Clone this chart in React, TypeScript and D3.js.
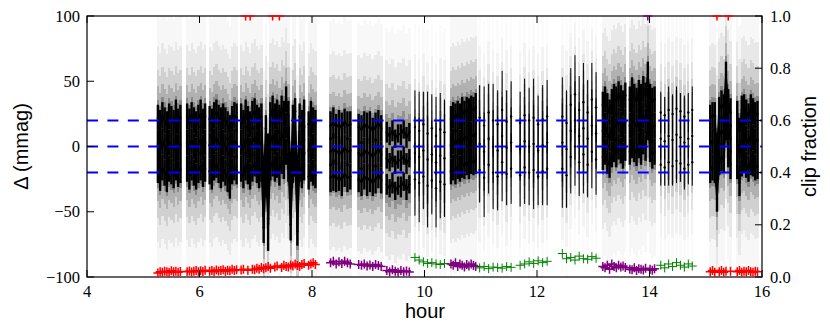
import React from 'react';
import * as d3 from 'd3';

const W = 830;
const H = 332;
const PLOT = { left: 87, right: 762, top: 16, bottom: 277 };

const HOUR_TICKS = [4, 6, 8, 10, 12, 14, 16];
const DELTA_TICKS = [-100, -50, 0, 50, 100];
const CLIP_TICKS = [0, 0.2, 0.4, 0.6, 0.8, 1.0];
// three light curves are drawn offset by these amounts, one dashed zero line each
const OFFSETS = [20, 0, -20];

const RED = '#ff0000';
const PURPLE = '#800080';
const GREEN = '#008000';

// observing blocks: start hour and cadence (hours)
const SEG_START = [5.26, 8.33, 9.83, 10.47, 10.98, 12.45, 13.17, 14.2, 15.08];
const SEG_STEP = [0.04, 0.05, 0.075, 0.04, 0.08, 0.075, 0.04, 0.07, 0.04];

// Δ (mmag) per exposure, null = no exposure
const deltaA = [2, -3, 4, 0, -4, 3, 1, -2, 5, -1, 2, null, null, 3, -2, 4, 0, -3, 2, 5, -1, 3, null, 1, -2, 4, 6, 2, -1, 3, 0, -4, -8, 1, 4, 2, null, 3, -2, 5, 1, -3, 4, 7, 2, -1, 3, -42, -6, -35, 4, 8, 3, 6, 1, 9, 5, 16, 4, -40, 2, 7, -45, 3, -2, 5, null, -3, 4, 0, -2];
const deltaB = [-4, -2, -5, -3, -6, -1, -4, -3, null, null, -5, -7, -3, -6, -4, -8, -5, -2, -6, null, -9, -12, -8, -14, -10, -11, -7, -13, -9];
const deltaC = [-5, -8, -3, -10, -6, -12, -7, -9];
const deltaD1 = [1, 4, 2, 5, 3, 7, 5, 8, 6, 9, 8, 10];
const deltaC2 = [2, -4, 6, 0, -3, 8, -1, 3, null, -2, 4, 0, 2, -3, 1, 3];
const deltaD = [3, -2, 12, 20, 8, 14, 6, 16, 10];
const deltaE = [12, 16, 10, 6, 14, 18, 15, 20, 17, 13, 19, null, 16, 22, 18, 15, 21, 17, 24, 19, 35, 18, 14, 16];
const deltaG = [6, 4, 8, 5, 9, 7, 3, 6, 8];
const deltaF = [2, 4, 3, -20, 8, 12, 10, 35, 14, 6, null, null, 5, -8, 8, 10, 6, 3, 9, 7, 4, 5];

// 1-sigma errors (mmag)
const errA = [10, 11, 10, 10, 11, 10, 10, 10, 11, 10, 10, 0, 0, 10, 11, 10, 10, 10, 10, 11, 10, 10, 0, 10, 11, 10, 10, 10, 11, 10, 10, 11, 12, 10, 10, 11, 0, 10, 10, 11, 10, 10, 11, 10, 10, 11, 10, 12, 10, 25, 10, 11, 10, 10, 11, 10, 10, 10, 11, 12, 10, 10, 11, 10, 10, 11, 0, 10, 11, 10, 10];
const errB = [11, 12, 10, 11, 12, 10, 11, 10, 0, 0, 10, 11, 10, 12, 11, 10, 11, 10, 10, 0, 8, 7, 8, 7, 7, 8, 7, 8, 7];
const errC = [28, 30, 25, 32, 26, 30, 28, 25];
const errD1 = [10, 10, 11, 10, 10, 11, 10, 10, 11, 10, 10, 11];
const errC2 = [25, 30, 22, 28, 26, 30, 24, 27, 0, 24, 28, 25, 30, 22, 26, 28];
const errD = [30, 25, 28, 30, 26, 30, 25, 28, 27];
const errE = [10, 10, 11, 10, 10, 10, 11, 10, 10, 10, 10, 0, 10, 11, 10, 10, 10, 11, 10, 10, 10, 10, 11, 10];
const errG = [16, 14, 18, 15, 17, 14, 16, 15, 18];
const errF = [10, 10, 11, 10, 10, 11, 10, 10, 10, 11, 0, 0, 10, 10, 11, 10, 10, 10, 11, 10, 10, 10];

// clip fraction per exposure
const clipA = [0.015, 0.02, 0.018, 0.022, 0.02, 0.017, 0.024, 0.02, 0.022, 0.018, 0.021, null, null, 0.02, 0.023, 0.019, 0.022, 0.025, 0.02, 0.024, 0.021, 0.026, null, 0.022, 0.025, 0.02, 0.027, 0.023, 0.025, 0.028, 0.022, 0.026, 0.024, 0.03, 0.025, 0.028, null, 0.027, 0.03, 1.0, 0.026, 1.0, 0.03, 0.028, 0.034, 0.03, 0.036, 0.032, 0.035, 0.04, 0.034, 1.0, 0.038, 0.042, 1.0, 0.036, 0.045, 0.04, 0.038, 0.046, 0.042, 0.05, 0.044, 0.04, 0.048, 0.052, null, 0.045, 0.05, 0.055, 0.048];
const clipB = [0.055, 0.06, 0.05, 0.058, 0.052, 0.06, 0.055, 0.05, null, null, 0.048, 0.045, 0.05, 0.042, 0.046, 0.04, 0.048, 0.044, 0.04, null, 0.025, 0.02, 0.028, 0.022, 0.018, 0.025, 0.02, 0.023, 0.019];
const clipC = [0.075, 0.065, 0.058, 0.052, 0.055, 0.05, 0.048, 0.052];
const clipD1 = [0.05, 0.045, 0.055, 0.04, 0.05, 0.045, 0.038, 0.048, 0.042, 0.05, 0.044, 0.04];
const clipC2 = [0.035, 0.04, 0.032, 0.038, 0.036, 0.034, 0.04, 0.037, null, 0.045, 0.05, 0.058, 0.052, 0.062, 0.055, 0.06];
const clipD = [0.09, 0.07, 0.075, 0.065, 0.08, 0.07, 0.068, 0.078, 0.072];
const clipE = [0.04, 0.035, 0.045, 0.03, 0.05, 0.04, 0.035, 0.045, 0.038, 0.042, 0.036, null, 0.03, 0.028, 0.035, 0.025, 0.032, 0.03, 0.027, 0.034, 1.0, 0.03, 0.026, 0.032];
const clipG = [0.045, 0.035, 0.05, 0.04, 0.055, 0.045, 0.038, 0.05, 0.042];
const clipF = [0.02, 0.025, 0.018, 1.0, 0.02, 0.025, 0.018, 0.022, 1.0, 0.022, null, null, 0.02, 0.025, 0.018, 0.022, 0.02, 0.025, 0.02, 0.018, 0.022, 0.02];

const DELTAS = [deltaA, deltaB, deltaC, deltaD1, deltaC2, deltaD, deltaE, deltaG, deltaF];
const ERRS = [errA, errB, errC, errD1, errC2, errD, errE, errG, errF];
const CLIPS = [clipA, clipB, clipC, clipD1, clipC2, clipD, clipE, clipG, clipF];
const SEG_COLOR = [RED, PURPLE, GREEN, PURPLE, GREEN, GREEN, PURPLE, GREEN, RED];
const SEG_DENSE = [true, true, false, true, false, false, true, false, true];
const SEG_HALO = [1, 0.9, 0.6, 1, 0.55, 0.55, 1, 0.6, 1];

// stepped grey halo behind each exposure
const HALO_HALF = [100, 75, 57, 44, 34];
const HALO_OP = [0.03, 0.06, 0.1, 0.15, 0.22];

type Pt = { t: number; d: number | null; e: number; c: number | null };

const segments = SEG_START.map((t0, s) => {
  const pts: Pt[] = DELTAS[s].map((d, i) => ({
    t: t0 + i * SEG_STEP[s],
    d,
    e: ERRS[s][i] ?? 0,
    c: CLIPS[s][i] ?? null,
  }));
  return { pts, dt: SEG_STEP[s], color: SEG_COLOR[s], dense: SEG_DENSE[s], halo: SEG_HALO[s] };
});

const x = d3.scaleLinear().domain([4, 16]).range([PLOT.left, PLOT.right]);
const y = d3.scaleLinear().domain([-100, 100]).range([PLOT.bottom, PLOT.top]);
const yc = d3.scaleLinear().domain([0, 1]).range([PLOT.bottom, PLOT.top]);

const serif = '"Liberation Serif", "Times New Roman", serif';
const sans = '"Liberation Sans", Arial, sans-serif';

export default function App() {
  const pw = PLOT.right - PLOT.left;
  const ph = PLOT.bottom - PLOT.top;

  const halos = segments.map((seg, s) => {
    const colW = seg.dense ? seg.dt : seg.dt * 0.6;
    return HALO_HALF.map((hw, k) => {
      const d = seg.pts
        .filter(p => p.d != null)
        .map(p => {
          const x0 = x(p.t - colW / 2);
          const x1 = x(p.t + colW / 2);
          const y0 = y((p.d as number) + hw);
          const y1 = y((p.d as number) - hw);
          return `M${x0},${y0}H${x1}V${y1}H${x0}Z`;
        })
        .join('');
      return <path key={`h${s}-${k}`} d={d} fill="#000" fillOpacity={HALO_OP[k] * seg.halo} shapeRendering="crispEdges" />;
    });
  });

  const lines = segments.map((seg, s) => {
    if (!seg.dense) return null;
    return OFFSETS.map(o => {
      const line = d3.line<Pt>()
        .defined(p => p.d != null)
        .x(p => x(p.t))
        .y(p => y((p.d as number) + o));
      return <path key={`l${s}${o}`} d={line(seg.pts) || ''} fill="none" stroke="#000" strokeWidth={1.6} />;
    });
  });

  const bars = segments.map((seg, s) =>
    seg.pts.filter(p => p.d != null).map((p, i) =>
      OFFSETS.map(o => {
        const v = (p.d as number) + o;
        return (
          <g key={`b${s}-${i}-${o}`}>
            <line x1={x(p.t)} x2={x(p.t)} y1={y(v + p.e)} y2={y(v - p.e)} stroke="#000" strokeWidth={seg.dense ? 2.4 : 1} />
            <circle cx={x(p.t)} cy={y(v)} r={1.2} fill="#000" />
          </g>
        );
      })
    )
  );

  const clipMarks = segments.map((seg, s) => {
    const d = seg.pts
      .filter(p => p.c != null)
      .map(p => {
        const cx = x(p.t);
        const cy = yc(p.c as number);
        return `M${cx - 4.5},${cy}h9M${cx},${cy - 4.5}v9`;
      })
      .join('');
    return <path key={`c${s}`} d={d} fill="none" stroke={seg.color} strokeWidth={seg.dense ? 1.5 : 1} />;
  });

  return (
    <svg width={W} height={H} style={{ position: 'absolute', left: 0, top: 0, background: '#fff' }}>
      <defs>
        <clipPath id="plotArea">
          <rect x={PLOT.left} y={PLOT.top} width={pw} height={ph} />
        </clipPath>
        <clipPath id="markArea">
          <rect x={PLOT.left} y={PLOT.top - 1} width={pw} height={ph + 2} />
        </clipPath>
      </defs>

      <g clipPath="url(#plotArea)">
        {halos}
        {lines}
        {bars}
        {OFFSETS.map(o => (
          <line key={`z${o}`} x1={PLOT.left} x2={PLOT.right} y1={y(o)} y2={y(o)}
            stroke="#0000ff" strokeWidth={2} strokeDasharray="11,9.4" />
        ))}
      </g>

      <rect x={PLOT.left} y={PLOT.top} width={pw} height={ph} fill="none" stroke="#000" strokeWidth={1.2} />

      <g clipPath="url(#markArea)">{clipMarks}</g>

      {HOUR_TICKS.map(h => (
        <g key={`xt${h}`}>
          <line x1={x(h)} x2={x(h)} y1={PLOT.bottom} y2={PLOT.bottom - 7} stroke="#000" />
          <line x1={x(h)} x2={x(h)} y1={PLOT.top} y2={PLOT.top + 7} stroke="#000" />
          <text x={x(h)} y={297} textAnchor="middle" fontFamily={serif} fontSize={16.5}>{h}</text>
        </g>
      ))}

      {DELTA_TICKS.map(v => (
        <g key={`yt${v}`}>
          <line x1={PLOT.left} x2={PLOT.left + 7} y1={y(v)} y2={y(v)} stroke="#000" />
          <text x={80} y={y(v) + 5.6} textAnchor="end" fontFamily={serif} fontSize={16.5}>
            {v < 0 ? `\u2212${-v}` : v}
          </text>
        </g>
      ))}

      {CLIP_TICKS.map(c => (
        <g key={`ct${c}`}>
          <line x1={PLOT.right} x2={PLOT.right - 7} y1={yc(c)} y2={yc(c)} stroke="#000" />
          <text x={770} y={yc(c) + 5.6} textAnchor="start" fontFamily={serif} fontSize={16.5}>
            {d3.format('.1f')(c)}
          </text>
        </g>
      ))}

      <text x={425} y={318} textAnchor="middle" fontFamily={sans} fontSize={20}>hour</text>
      <text transform={`translate(28,${(PLOT.top + PLOT.bottom) / 2}) rotate(-90)`} textAnchor="middle" fontFamily={sans} fontSize={20}>
        Δ (mmag)
      </text>
      <text transform={`translate(816,${(PLOT.top + PLOT.bottom) / 2}) rotate(-90)`} textAnchor="middle" fontFamily={sans} fontSize={20}>
        clip fraction
      </text>
    </svg>
  );
}
